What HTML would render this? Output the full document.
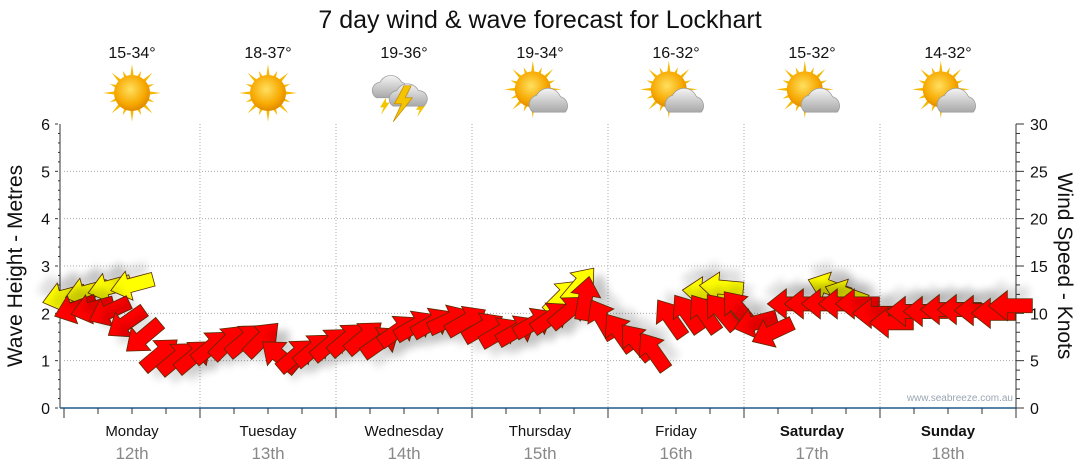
<!DOCTYPE html>
<html><head><meta charset="utf-8"><style>
body{margin:0;background:#fff;}
svg{display:block;font-family:"Liberation Sans",sans-serif;}
</style></head><body>
<svg id="c" width="1080" height="475" viewBox="0 0 1080 475">
<defs>
<radialGradient id="sun" cx="45%" cy="40%" r="60%"><stop offset="0" stop-color="#ffe060"/><stop offset="0.7" stop-color="#f7a800"/><stop offset="1" stop-color="#e08a00"/></radialGradient>
<linearGradient id="cloud" x1="0" y1="0" x2="0" y2="1"><stop offset="0" stop-color="#f4f4f4"/><stop offset="1" stop-color="#a8a8a8"/></linearGradient>
<filter id="sh" x="-50%" y="-50%" width="200%" height="200%"><feGaussianBlur stdDeviation="4"/></filter>
</defs>
<text x="540" y="28" font-size="25" text-anchor="middle" fill="#111">7 day wind &amp; wave forecast for Lockhart</text>
<g id="topg"></g>
<g id="grid"></g>
<g id="marks"></g>
<text x="1013" y="401" font-size="10" text-anchor="end" fill="#9aa6b4">www.seabreeze.com.au</text>
<text transform="translate(22,266) rotate(-90)" font-size="21" text-anchor="middle" fill="#111">Wave Height - Metres</text>
<text transform="translate(1058,266) rotate(90)" font-size="21" text-anchor="middle" fill="#111">Wind Speed - Knots</text>
</svg>
<script>
const days=["Monday","Tuesday","Wednesday","Thursday","Friday","Saturday","Sunday"];
const dates=["12th","13th","14th","15th","16th","17th","18th"];
const temps=["15-34°","18-37°","19-36°","19-34°","16-32°","15-32°","14-32°"];
const icons=["sun","sun","storm","partly","partly","partly","partly"];
const leftTicks=[0,1,2,3,4,5,6];
const rightTicks=[0,5,10,15,20,25,30];
const windHours=[2,5,8,11,14,17,20,23,26,29,32,35,38,41,44,47,50,53,56,59,62,65,68,71,74,77,80,83,86,89,92,95,98,101,104,107,110,113,116,119,122,125,128,131,134,137,140,143,146,149,152,155,158,161,164,167];
const windSpeed=[10.5,10.5,10.2,9,7.5,5.7,5.3,5.5,6.5,7,7.2,7.3,5.5,5.6,6.2,6.8,7.3,7.5,7,8.2,8.7,9,9.3,9.2,8.5,8,8.2,9,9.6,10.2,11.6,9.4,8,7,6,9.5,10,10,10.2,10.5,9,8,11,11,11,11,11,10,9,10.2,10.2,10.4,10.4,10.3,10,10.8];
const windDir=[160,165,155,145,140,-40,-40,-40,-40,-45,-40,-45,-140,-40,-40,-40,-40,-40,-35,-35,-30,-30,-25,-30,-30,-30,-30,-30,-35,-40,-80,-120,-125,-130,-125,-125,-125,-125,-130,-130,165,155,180,180,180,180,180,180,180,180,180,180,180,180,180,180];
const waveHours=[0,4,8,12,88,91,113,116,135,138];
const waveHeight=[2.35,2.45,2.55,2.6,2.35,2.6,2.45,2.55,2.55,2.4];
const waveDir=[165,165,165,165,-45,-50,185,185,200,200];

const NS="http://www.w3.org/2000/svg";
const X0=64,DAYW=136,YB=408,YT=124;
const xH=h=>X0+h*DAYW/24;
const yM=m=>YB-(m/6)*(YB-YT);
const yK=k=>YB-(k/30)*(YB-YT);
function mk(tag,at,parent){const e=document.createElementNS(NS,tag);for(const k in at)e.setAttribute(k,at[k]);parent.appendChild(e);return e;}
const grid=document.getElementById('grid'),topG=document.getElementById('topg'),marks=document.getElementById('marks');
leftTicks.forEach((v,i)=>{
  if(v>0&&v<6){const l=mk('line',{x1:X0,x2:1016,y1:yM(v),y2:yM(v),stroke:'#aaa','stroke-dasharray':'1,2'},grid);
  
  }
  const t=mk('text',{x:50,y:yM(v)+6,'font-size':16,'text-anchor':'end',fill:'#111'},grid);t.textContent=v;
  
  
  const r=mk('text',{x:1030,y:yK(rightTicks[i])+6,'font-size':16,fill:'#111'},grid);r.textContent=rightTicks[i];
  
  
});
for(let j=0;j<=30;j++){const m=j*0.2;mk('line',{x1:58,x2:j%5==0?55:60,y1:yM(m),y2:yM(m),stroke:'#333'},grid);}
for(let k=0;k<=30;k++){mk('line',{x1:1016,x2:k%5==0?1024:1020,y1:yK(k),y2:yK(k),stroke:'#333'},grid);}
mk('line',{x1:X0-4,x2:X0-4,y1:YT,y2:YB,stroke:'#333'},grid);
mk('line',{x1:1016,x2:1016,y1:YT,y2:YB,stroke:'#333'},grid);
mk('line',{x1:X0-4,x2:1016,y1:YB,y2:YB,stroke:'#1f5a8a','stroke-width':1.5},grid);
for(let h=0;h<=168;h+=6){mk('line',{x1:xH(h),x2:xH(h),y1:YB,y2:YB+(h%24==0?10:6),stroke:'#333'},grid);}
for(let d=1;d<7;d++){const l=mk('line',{x1:xH(d*24),x2:xH(d*24),y1:YT,y2:YB,stroke:'#aaa','stroke-dasharray':'1,2'},grid);
  
  }
days.forEach((d,i)=>{
  const cx=X0+DAYW*i+DAYW/2;
  const t=mk('text',{x:cx,y:436,'font-size':15,'text-anchor':'middle',fill:'#111','font-weight':i>=5?'bold':'normal'},grid);t.textContent=d;
  
  
  const s=mk('text',{x:cx,y:459,'font-size':17,'text-anchor':'middle',fill:'#888'},grid);s.textContent=dates[i];
  
  
  const tt=mk('text',{x:cx,y:58,'font-size':16,'text-anchor':'middle',fill:'#111'},topG);tt.textContent=temps[i];
  
  
  const g=mk('g',{transform:`translate(${cx},93) scale(1.2)`},topG);
  
  
  const ic=icons[i];
  if(ic!='storm'){
    const sx=ic=='sun'?0:-6,sy=ic=='sun'?0:-3;
    for(let a=0;a<360;a+=22.5){const r=(a*Math.PI)/180,L=a%45==0?24:20;
      mk('polygon',{points:`${sx+Math.cos(r)*L},${sy+Math.sin(r)*L} ${sx+Math.cos(r+0.12)*13},${sy+Math.sin(r+0.12)*13} ${sx+Math.cos(r-0.12)*13},${sy+Math.sin(r-0.12)*13}`,fill:'#f5b800'},g);}
    mk('circle',{cx:sx,cy:sy,r:15,fill:'url(#sun)'},g);
  }
  if(ic=='partly'){
    mk('path',{d:'M-6,16 a8,8 0 0 1 3,-14 a11,11 0 0 1 20,1 a8,8 0 0 1 4,13 z',fill:'url(#cloud)',stroke:'#999','stroke-width':0.6},g);
  }
  if(ic=='storm'){
    mk('polygon',{points:'-15,4 -20,12 -17,12 -19,18 -12,8 -15,8',fill:'#f5c400'},g);
    mk('polygon',{points:'14,8 10,14 13,14 11,20 18,10 15,10',fill:'#f5c400'},g);
    mk('path',{d:'M-23,4 a7,7 0 0 1 3,-13 a10,10 0 0 1 18,0 a7,7 0 0 1 2,13 z',fill:'url(#cloud)',stroke:'#999','stroke-width':0.6},g);
    mk('path',{d:'M-9,11 a7,7 0 0 1 3,-13 a10,10 0 0 1 18,0 a7,7 0 0 1 4,13 z',fill:'url(#cloud)',stroke:'#999','stroke-width':0.6},g);
    mk('polygon',{points:'0,-6 -8,9 -2,9 -9,24 7,4 1,4 6,-6',fill:'#f5c400',stroke:'#c08a00','stroke-width':0.6},g);
  }
});
function arrow(x,y,ang,fill,name){
  const g=mk('g',{transform:`translate(${x},${y}) rotate(${ang})`},marks);
  
  
  const p='M-22,-7 L3,-7 L3,-15 L22,0 L3,15 L3,7 L-22,7 Z';
  mk('path',{d:p,fill:'#000',opacity:0.12,filter:'url(#sh)',transform:'translate(3,12)'},g);
  mk('path',{d:p,fill:fill,stroke:'#5a2a00','stroke-width':0.8},g);
}
waveHours.forEach((h,i)=>arrow(xH(h),yM(waveHeight[i]),waveDir[i],'#ffff00','wave-arrow'));
windHours.forEach((h,i)=>arrow(xH(h),yK(windSpeed[i]),windDir[i],'#ff0000','wind-arrow'));
</script>
</body></html>
